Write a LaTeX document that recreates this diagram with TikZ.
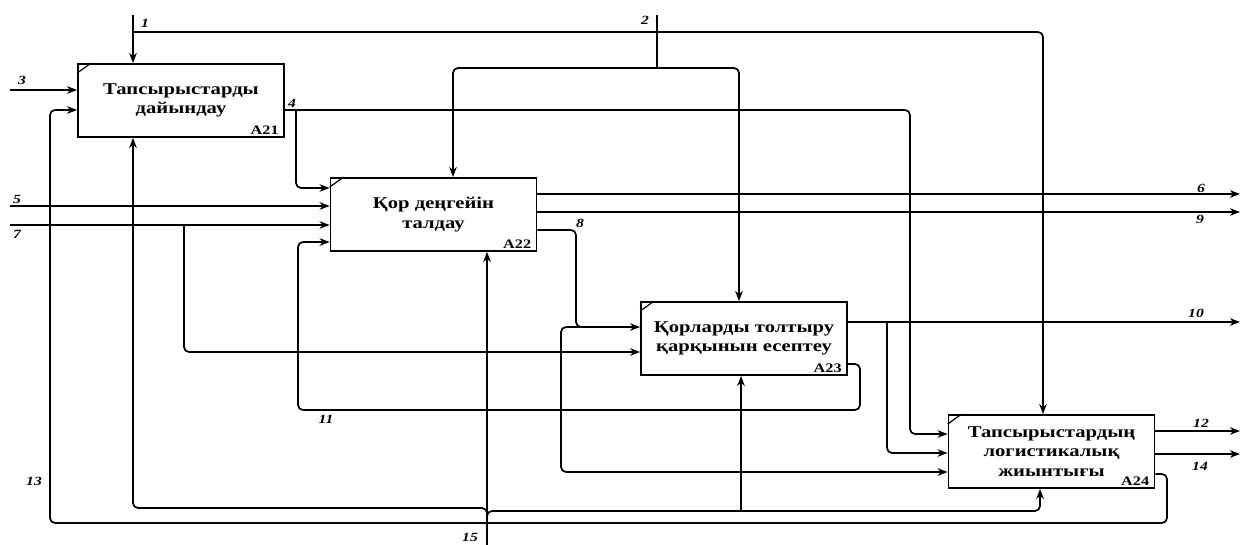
\documentclass[tikz,border=0pt]{standalone}
\usepackage{fontspec}
\setmainfont{Liberation Serif}
\newfontfamily\boxfont[FakeStretch=1.25]{Liberation Serif}
\usetikzlibrary{arrows.meta, calc}

\begin{document}
\begin{tikzpicture}[x=1pt,y=-1pt,
    fn/.style={draw,line width=1.8pt,minimum width=206pt,minimum height=73pt,align=center,inner sep=0pt,
      font=\boxfont\fontsize{16.5}{19.5}\selectfont\bfseries},
    idx/.style={font=\boxfont\fontsize{13}{13}\selectfont\bfseries,inner sep=1pt,anchor=south east},
    num/.style={font=\boxfont\fontsize{12.5}{12.5}\selectfont\bfseries\itshape,inner sep=0pt},
    ln/.style={line width=1.7pt,rounded corners=5pt},
    ar/.style={ln,-{Stealth[length=10pt,width=7.5pt,inset=3pt]}}]
    \useasboundingbox (0,0) rectangle (1241,545);
    % activity boxes
    \node[fn] (A21) at (181,100.5) {Тапсырыстарды\\дайындау};
    \node[fn] (A22) at (433.5,214.5) {Қор деңгейін\\талдау};
    \node[fn] (A23) at (744,338.5) {Қорларды толтыру\\қарқынын есептеу};
    \node[fn] (A24) at (1051.5,451.5) {Тапсырыстардың\\логистикалық\\жиынтығы};
    \foreach \b in {A21,A22,A23,A24} {
      \draw[line width=1.2pt] ($(\b.north west)+(0,10)$) -- ($(\b.north west)+(14,0)$);
      \node[idx] at ($(\b.south east)+(-5,-2)$) {\b};
    }
    % free ends and branch points
    \coordinate (s1) at (133,15);
    \coordinate (s2) at (657,15);
    \coordinate (j2) at (657,68);
    \coordinate (s3) at (10,90);
    \coordinate (s5) at (10,206);
    \coordinate (s7) at (10,225);
    \coordinate (j7) at (184,225);
    \coordinate (j4) at (296,110);
    \coordinate (j8) at (580,327);
    \coordinate (j10) at (887,322);
    \coordinate (s15) at (487,545);
    \coordinate (j15) at (487,516);
    \coordinate (j15b) at (741,511);
    % controls
    \draw[ar] (s1) -- (A21.north -| s1);
    \draw[ar] (s1 |- 0,32) -| (A24.north -| 1043,0);
    \draw[ln] (s2) -- (j2);
    \draw[ar] (j2) -| (A22.north -| 453,0);
    \draw[ar] (j2) -| (A23.north -| 739,0);
    % inputs
    \draw[ar] (s3) -- (A21.west |- s3);
    \draw[ar] (s5) -- (A22.west |- s5);
    \draw[ar] (s7) -- (A22.west |- s7);
    \draw[ar] (j7) |- (A23.west |- 0,352);
    % A21 -> A22, A24
    \draw[ar] (A21.east |- 0,110) -- (910,110) |- (A24.west |- 0,434);
    \draw[ar] (j4) |- (A22.west |- 0,188);
    % A22 outputs
    \draw[ar] (A22.east |- 0,194) -- (1240,194);
    \draw[ar] (A22.east |- 0,212) -- (1240,212);
    \draw[ar] (A22.east |- 0,230) -- (576,230) |- (A23.west |- 0,327);
    \draw[ar] (j8) -- (561,327) |- (A24.west |- 0,472);
    % A23 outputs
    \draw[ar] (A23.east |- 0,322) -- (1240,322);
    \draw[ar] (j10) |- (A24.west |- 0,453);
    \draw[ar] (A23.east |- 0,364) -- (860,364) -- (860,410) -- (298,410) |- (A22.west |- 0,242);
    % A24 outputs
    \draw[ar] (A24.east |- 0,431) -- (1240,431);
    \draw[ar] (A24.east |- 0,454) -- (1240,454);
    \draw[ar] (A24.east |- 0,474) -- (1167,474) -- (1167,523) -- (50,523) |- (A21.west |- 0,110);
    % mechanisms
    \draw[ar] (s15) -- (A22.south -| s15);
    \draw[ar] (j15) |- (133,508) -- (A21.south -| 133,0);
    \draw[ar] (j15) |- (1040,511) -- (A24.south -| 1040,0);
    \draw[ar] (j15b) -- (A23.south -| j15b);
    % arrow numbers
    \foreach \t/\x/\y in {1/145/23,2/645/20,3/22/80,4/292/103,5/17/199,6/1201/188,7/17/234,8/580/223,
      9/1200/219,10/1196/313,11/326/419,12/1201/423,13/34/481,14/1200/466,15/470/537}
      \node[num] at (\x,\y) {\t};
  \end{tikzpicture}
\end{document}
